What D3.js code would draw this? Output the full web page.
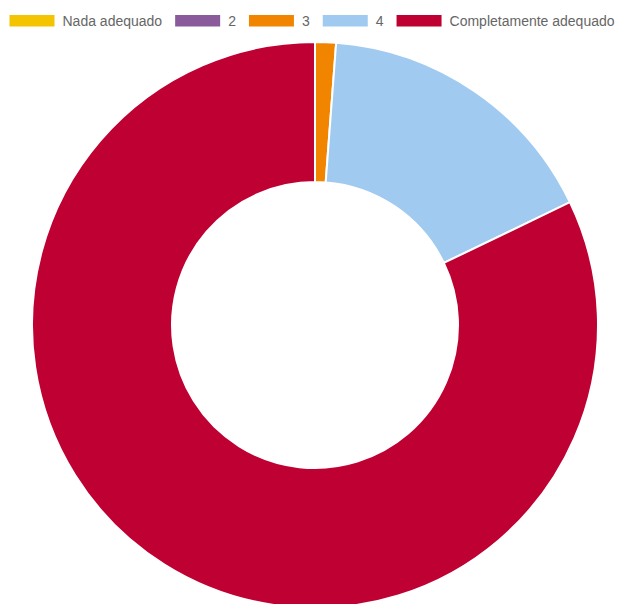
<!DOCTYPE html>
<html><head><meta charset="utf-8">
<script src="https://cdn.jsdelivr.net/npm/d3@7"></script>
<style>html,body{margin:0;padding:0;background:#fff;}</style>
</head><body>
<svg id="chart" width="624" height="604"></svg>
<script>
const categories = ["Nada adequado", "2", "3", "4", "Completamente adequado"];
const values = [0, 0, 1, 14, 69];
const colors = ["#F5C400", "#8B5A9A", "#F28500", "#A0CAF0", "#BE0032"];

const svg = d3.select("#chart");
const cx = 315, cy = 325, rOuter = 283, rInner = 143;

const data = categories.map((c, i) => ({cat: c, value: values[i], color: colors[i]}));
const pie = d3.pie().value(d => d.value).sort(null);
const arc = d3.arc().innerRadius(rInner).outerRadius(rOuter);

const g = svg.append("g").attr("transform", `translate(${cx},${cy})`);
g.selectAll("path").data(pie(data).filter(d => d.data.value > 0)).join("path")
  .attr("d", arc).attr("fill", d => d.data.color)
  .attr("stroke", "#fff").attr("stroke-width", 2);

// legend
const fontSize = 14, boxW = 45, boxH = 11.5, gapText = 8, gapItem = 13;
const font = "Arial, 'Liberation Sans', sans-serif";
const lg = svg.append("g");
const tmp = svg.append("text").attr("font-family", font).attr("font-size", fontSize);
const widths = categories.map(c => { tmp.text(c); return tmp.node().getComputedTextLength(); });
tmp.remove();
let x = 9.5;
categories.forEach((c, i) => {
  lg.append("rect").attr("x", x).attr("y", 15).attr("width", boxW).attr("height", boxH).attr("fill", colors[i]);
  lg.append("text").attr("x", x + boxW + gapText).attr("y", 25.5)
    .attr("font-family", font).attr("font-size", fontSize)
    .attr("fill", "#666").text(c);
  x += boxW + gapText + widths[i] + gapItem;
});
</script>
</body></html>
